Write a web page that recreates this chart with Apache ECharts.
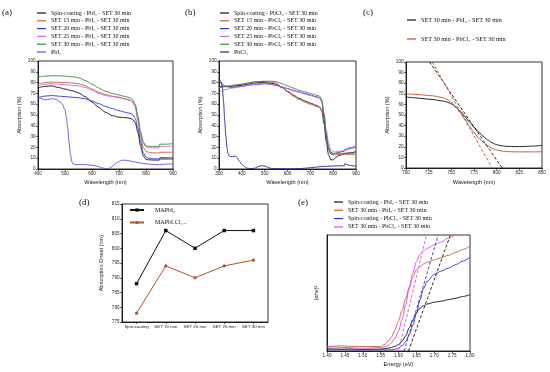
<!DOCTYPE html>
<html><head><meta charset="utf-8">
<script src="https://cdn.jsdelivr.net/npm/echarts/dist/echarts.min.js"></script>
<style>html,body{margin:0;padding:0;background:#fff}#c{width:550px;height:372px}</style>
</head><body><div id="c"></div>
<script>
// ---------- Panel (a) ----------
const aWl   = [400,425,450,475,500,525,550,575,600,625,650,675,700,725,740,750,760,770,780,790,800,810,825,849,851,875,900];
const aSpin = [75,76.5,77,75.5,74,72.5,70.5,67,62,57,52.5,49.5,48,47.5,47,46,43,34,21,12,9,8.5,8.3,8.2,9.3,9.3,9.3];
const aS15  = [78.5,80,80.5,80.3,80,79.7,79,77,74,71,69,67.5,66.5,65,64,62.5,58,45,30,20,16.5,15.5,15,14.8,15.5,15.5,15.5];
const aS20  = [66,67.5,68,67.5,67,66.5,66,65,63,60.5,58,56,54,52.5,51.5,50.5,47,38,25,15,11,10,9.5,9.3,10.5,10.5,10.5];
const aS25  = [77,78.5,79,78.5,78,77.5,77,75.5,73,70,68,67,66,64.5,63.5,62,58,47,33,24,20.5,19.8,19.5,19.5,21,21,21];
const aS30  = [85,86,86.3,86.3,86,85.5,84.5,82,78.5,75,72,70,68.5,67,66,64.5,60,49,34,25,21.5,21,20.8,21,23,23,23.5];
const aPbI2Wl = [400,410,420,430,440,450,460,470,480,490,500,505,510,515,520,525,530,540,560,580,600,620,640,650,660,670,680,690,700,710,720,730,740,760,780,800,820,849,851,875,900];
const aPbI2   = [66.5,65.5,64.5,64,64.5,65,65,64,62.5,60,55,48,38,25,14,7,4.5,4,4.2,4,3.5,2.5,1,0.3,0.3,1.5,3.5,5.5,7,8,8.2,8,7.5,6.5,5.5,4.8,4.3,4,4.2,4.5,4.8];
const aNames = ['Spin-coating - PbI₂ - SET 30 min','SET 15 min - PbI₂ - SET 30 min','SET 20 min - PbI₂ - SET 30 min','SET 25 min - PbI₂ - SET 30 min','SET 30 min - PbI₂ - SET 30 min','PbI₂'];

// ---------- Panel (b) ----------
const bWl   = [300,310,320,330,340,350,375,400,425,450,475,500,525,550,575,600,625,650,675,700,725,740,750,760,770,780,790,800,810,825,849,851,875,900];
const bSpin = [76,76.5,76.5,76.5,76.5,76.5,77,77.5,78.5,79.5,80,80,79.5,78.5,75.5,72,68.5,65.5,63,61,59,57.5,54,42,25,13,8.5,8.5,10.5,12.5,14,14.5,15,16];
const bS15  = [75.5,76,76.5,76.8,77,77.2,78,78.5,79.5,80.5,81,81,80.5,79.5,76,71.5,67.5,64.5,62,60,58,57,55,46,31,19,14,13,13,13.5,13.5,13.5,13.5,13];
const bS20  = [81,79.5,77.5,76.5,76,75.5,76,76.5,77.5,78,78.5,79,78.5,77.5,76,74.5,73,71.5,70,68.5,67,66,62.5,48,30,18,14,14,14.5,15.5,16.5,17.5,19,20.5];
const bS25  = [71,72,73,73.5,74,74.5,75.5,76.5,77.5,78.5,79,79,78.5,77.5,76,74.5,72.5,71,69.5,68,66.5,65.5,63,52,36,24,18,16,16,16.5,17,18.5,20,21.5];
const bS30  = [75,75.5,76,76.2,76.4,76.5,77.5,78.5,79.5,80.5,81,81.3,81.3,81,79,77,75,73,71.5,70,68.5,67.5,64,50,32,20,15.5,14.5,14.5,14.5,14.5,14.5,14.5,15];
const bPbCl2Wl = [300,305,310,315,320,325,330,335,340,345,350,360,370,380,390,400,410,420,430,440,450,460,470,480,490,500,510,520,530,550,600,650,700,750,800,840,849,851,860,875,900];
const bPbCl2   = [82,82,80.5,75,62,45,30,20,14,12,11.5,11.5,12,10.5,7,4.5,2.5,1,0.5,0.3,0.5,1,2,2.8,3,2.7,2,1,0.5,0.3,0.2,0.3,1.2,2.3,2.8,3,3,5,4,3.2,2.6];
const bNames = ['Spin-coating - PbCl₂ - SET 30 min','SET 15 min - PbCl₂ - SET 30 min','SET 20 min - PbCl₂ - SET 30 min','SET 25 min - PbCl₂ - SET 30 min','SET 30 min - PbCl₂ - SET 30 min','PbCl₂'];

// ---------- Panel (c) ----------
const cWl    = [700,710,720,730,740,745,750,755,760,765,770,775,780,785,790,795,800,805,810,820,830,840,850];
const cPbI2  = [67,66.2,65.3,64.5,63.3,62.3,60.5,57.5,53.5,48.5,43.5,38.5,34,30,26.5,23.8,22,21,20.5,20.2,20.3,20.7,21.3];
const cPbCl2 = [70,69.5,68.8,68,66.5,65,62,57.5,52,46,39.5,33.5,28.5,24.5,21,18.5,17,16,15.5,15.2,15.2,15.2,15.3];
const cTanIx = [726,806], cTanIy = [100,0];
const cTanClx = [729,795], cTanCly = [100,0];
const cNames = ['SET 30 min - PbI₂ - SET 30 min','SET 30 min - PbCl₂ - SET 30 min'];

// ---------- Panel (d) ----------
const dCats = ['Spin-coating','SET 15 min','SET 20 min','SET 25 min','SET 30 min'];
const dI3   = [788,806,800,806,806];
const dCl   = [778,794,790,794,796];
const dNames = ['MAPbI₃','MAPbIₓCl₃₋ₓ'];

// ---------- Panel (e) ----------
const eX      = [1.40,1.42,1.44,1.46,1.48,1.50,1.52,1.54,1.55,1.56,1.57,1.58,1.59,1.60,1.61,1.62,1.63,1.64,1.65,1.66,1.67,1.68,1.70,1.72,1.74,1.76,1.78,1.80];
const eSpinI  = [2,1.8,1.5,1.8,1.5,1.3,1.5,1.5,1.7,2,2.3,3,4,5.5,8.5,13,20,27,33,37,39,40.5,42,43,44.3,45.5,47,48.5];
const eSetI   = [4,4,4.5,4,4,3.8,3.8,3.8,4,5.5,8,12,18,26,35,45,55,64,70,73,75,76.5,78.5,80.5,82.5,85,87.5,90.5];
const eSpinCl = [1,1,1.2,1,0.8,1,1,1,1,1,1,1,1.5,2.5,4.5,8,14,22,32,44,54,60,66,69,71.5,74.5,77.5,81];
const eSetCl  = [3.5,3.5,3,3,2.5,2.5,2.5,3,3,3.5,4.5,7,11,17,27,40,54,67,77,83,86.5,88.5,91.5,94,97.5,100.5,null,null];
const eTanSetClx = [1.60,1.678], eTanSpinClx = [1.616,1.711], eTanSpinIx = [1.628,1.745], eTanY = [0,100];
const eNames = ['Spin-coating - PbI₂ - SET 30 min','SET 30 min - PbI₂ - SET 30 min','Spin-coating - PbCl₂ - SET 30 min','SET 30 min - PbCl₂ - SET 30 min'];

// ---------- helpers ----------
const zip = (xs, ys) => xs.map((x, i) => [x, ys[i]]);
const C = {black:'#111111', orange:'#c8603a', blue:'#3030d0', violet:'#cc66e0', green:'#3a8a3a', purple:'#7a40e0', navy:'#26269a', magenta:'#e04ae0', brown:'#b4502e'};
const SANS = 'Liberation Sans, Arial, sans-serif';
const SERIF = 'Liberation Serif, Times New Roman, serif';

function ax(extra) {
  return Object.assign({
    axisLine: {show: true, onZero: false, lineStyle: {color: '#000', width: 0.8}},
    axisTick: {show: true, length: 2, lineStyle: {color: '#000', width: 0.6}},
    axisLabel: {fontSize: 4.6, color: '#222', margin: 2.5, fontFamily: SANS},
    splitLine: {show: false},
    nameLocation: 'middle',
    nameTextStyle: {fontSize: 5.6, color: '#111', fontFamily: SANS}
  }, extra);
}
const labelMap = {};
function line(id, label, idx, xs, ys, color, extra) {
  if (label) labelMap[id] = label;
  return Object.assign({
    id: id, name: id, type: 'line', xAxisIndex: idx, yAxisIndex: idx,
    data: zip(xs, ys), showSymbol: false, symbol: 'none', smooth: 0.3, smoothMonotone: 'x',
    lineStyle: {color: color, width: 0.9}, itemStyle: {color: color}, animation: false, clip: true
  }, extra || {});
}
function dashed(id, idx, xs, ys, color) {
  return line(id, null, idx, xs, ys, color, {smooth: false, lineStyle: {color: color, width: 0.9, type: [3, 2]}});
}
function legend(left, top, ids, gap, extra) {
  return Object.assign({
    left: left, top: top, orient: 'vertical', padding: 0, itemGap: gap,
    itemWidth: 9, itemHeight: 1.2, icon: 'rect', selectedMode: false,
    data: ids, formatter: n => labelMap[n],
    textStyle: {fontSize: 6, lineHeight: 6, color: '#111', fontFamily: SERIF}
  }, extra || {});
}

const grids = [
  {left: 38, top: 61, width: 135, height: 108},
  {left: 219, top: 61, width: 137, height: 108},
  {left: 406, top: 62, width: 136, height: 106},
  {left: 122, top: 204, width: 146, height: 118},
  {left: 327, top: 235, width: 143, height: 116}
].map(g => Object.assign({show: true, borderColor: '#000', borderWidth: 0.8, backgroundColor: 'transparent'}, g));

const xAxes = [
  ax({gridIndex: 0, type: 'value', min: 400, max: 900, interval: 100, name: 'Wavelength (nm)', nameGap: 10}),
  ax({gridIndex: 1, type: 'value', min: 300, max: 900, interval: 100, name: 'Wavelength (nm)', nameGap: 10}),
  ax({gridIndex: 2, type: 'value', min: 700, max: 850, interval: 25, name: 'Wavelength (nm)', nameGap: 11}),
  ax({gridIndex: 3, type: 'category', data: dCats, boundaryGap: true, axisTick: {show: true, alignWithLabel: true, length: 2, lineStyle: {color: '#000', width: 0.6}}, axisLabel: {interval: 0, fontSize: 4.4, color: '#222', margin: 3, fontFamily: SANS}}),
  ax({gridIndex: 4, type: 'value', min: 1.40, max: 1.80, interval: 0.05, name: 'Energy (eV)', nameGap: 10,
      axisLabel: {fontSize: 4.6, color: '#222', margin: 2.5, fontFamily: SANS, formatter: v => v.toFixed(2)}})
];
const yAxes = [
  ax({gridIndex: 0, type: 'value', min: 0, max: 100, interval: 10, name: 'Absorption (%)', nameGap: 16}),
  ax({gridIndex: 1, type: 'value', min: 0, max: 100, interval: 10, name: 'Absorption (%)', nameGap: 16}),
  ax({gridIndex: 2, type: 'value', min: 0, max: 100, interval: 10, name: 'Absorption (%)', nameGap: 16}),
  ax({gridIndex: 3, type: 'value', min: 775, max: 815, interval: 5, name: 'Absorption Onset (nm)', nameGap: 18}),
  ax({gridIndex: 4, type: 'value', min: 0, max: 100, name: '(αhν)²', nameGap: 8, axisTick: {show: false}, axisLabel: {show: false}})
];

const series = [
  line('a0', aNames[0], 0, aWl, aSpin, C.black),
  line('a1', aNames[1], 0, aWl, aS15, C.orange),
  line('a2', aNames[2], 0, aWl, aS20, C.blue),
  line('a3', aNames[3], 0, aWl, aS25, C.violet),
  line('a4', aNames[4], 0, aWl, aS30, C.green),
  line('a5', aNames[5], 0, aPbI2Wl, aPbI2, C.purple),

  line('b0', bNames[0], 1, bWl, bSpin, C.black),
  line('b1', bNames[1], 1, bWl, bS15, C.orange),
  line('b2', bNames[2], 1, bWl, bS20, C.blue),
  line('b3', bNames[3], 1, bWl, bS25, C.violet),
  line('b4', bNames[4], 1, bWl, bS30, C.green),
  line('b5', bNames[5], 1, bPbCl2Wl, bPbCl2, C.navy),

  line('c0', cNames[0], 2, cWl, cPbI2, C.black),
  line('c1', cNames[1], 2, cWl, cPbCl2, C.brown),
  dashed('c0t', 2, cTanIx, cTanIy, C.black),
  dashed('c1t', 2, cTanClx, cTanCly, C.brown),

  {id: 'd0', name: 'd0', type: 'line', xAxisIndex: 3, yAxisIndex: 3, data: dI3, symbol: 'rect', symbolSize: 3.5,
   lineStyle: {color: C.black, width: 1}, itemStyle: {color: C.black}, animation: false},
  {id: 'd1', name: 'd1', type: 'line', xAxisIndex: 3, yAxisIndex: 3, data: dCl, symbol: 'circle', symbolSize: 3.2,
   lineStyle: {color: C.brown, width: 1}, itemStyle: {color: C.brown}, animation: false},

  line('e0', eNames[0], 4, eX, eSpinI, C.black),
  line('e1', eNames[1], 4, eX, eSetI, C.orange),
  line('e2', eNames[2], 4, eX, eSpinCl, C.blue),
  line('e3', eNames[3], 4, eX, eSetCl, C.magenta),
  dashed('e3t', 4, eTanSetClx, eTanY, C.magenta),
  dashed('e2t', 4, eTanSpinClx, eTanY, C.blue),
  dashed('e0t', 4, eTanSpinIx, eTanY, C.black)
];
labelMap['d0'] = dNames[0];
labelMap['d1'] = dNames[1];

const titleStyle = {fontSize: 9, fontFamily: SERIF, fill: '#111'};
const graphics = [['(a)', 2, 8], ['(b)', 185, 8], ['(c)', 363, 8], ['(d)', 79, 198], ['(e)', 298, 198]]
  .map(([t, x, y]) => ({type: 'text', left: x, top: y, style: Object.assign({text: t}, titleStyle)}));

const option = {
  backgroundColor: '#fff',
  animation: false,
  grid: grids,
  xAxis: xAxes,
  yAxis: yAxes,
  legend: [
    legend(37, 10, ['a0','a1','a2','a3','a4','a5'], 1.8),
    legend(220, 10, ['b0','b1','b2','b3','b4','b5'], 1.8),
    legend(407, 17, ['c0','c1'], 13, {textStyle: {fontSize: 6.2, lineHeight: 6, color: '#111', fontFamily: SERIF}}),
    legend(129, 207, ['d0','d1'], 6.5, {icon: null, itemWidth: 14, itemHeight: 4,
      textStyle: {fontSize: 6, lineHeight: 6, color: '#111', fontFamily: SERIF, padding: [0, 0, 0, 6]}}),
    legend(334, 199, ['e0','e1','e2','e3'], 2.3)
  ],
  graphic: graphics,
  series: series
};
const chart = echarts.init(document.getElementById('c'), null, {renderer: 'canvas'});
chart.setOption(option);
</script></body></html>
